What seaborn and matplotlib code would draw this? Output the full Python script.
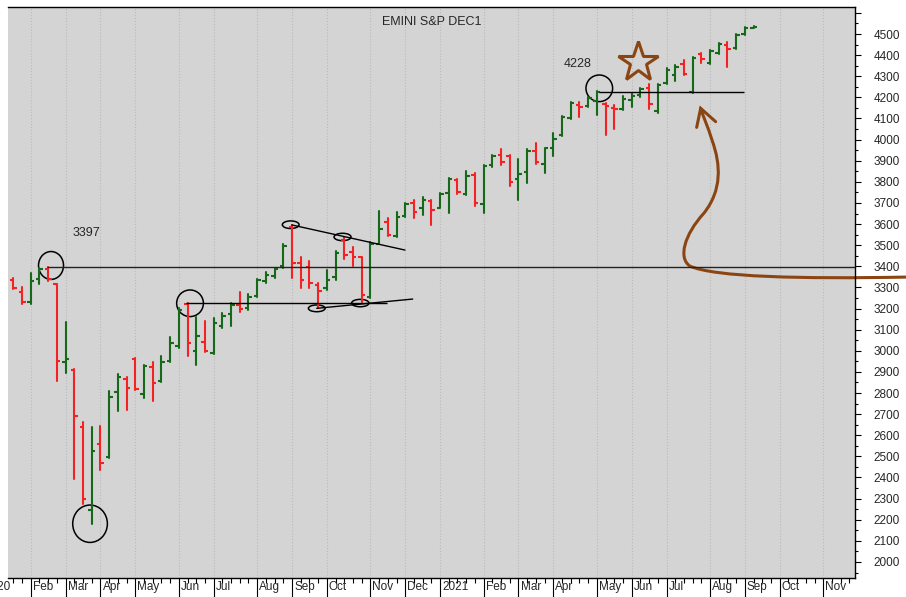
import numpy as np
import pandas as pd
import matplotlib
matplotlib.use('Agg')
import matplotlib.pyplot as plt
import matplotlib.transforms as mtransforms
from matplotlib.patches import Ellipse, PathPatch
from matplotlib.path import Path
import seaborn as sns

# weekly bars (week ending Friday), first bar = week ending 2020-01-24
first_week = '2020-01-24'
opens = [3335, 3280, 3233, 3340, 3385, 3314, 2948, 2909, 2640, 2246, 2560, 2495, 2806, 2865,
         2960, 2795, 2922, 2855, 2953, 3023, 3222, 2999, 3043, 2990, 3119, 3173, 3217, 3201,
         3261, 3330, 3354, 3400, 3586, 3414, 3398, 3312, 3296, 3351, 3525, 3470, 3446, 3256,
         3504, 3610, 3545, 3640, 3698, 3675, 3711, 3678, 3746, 3809, 3741, 3832, 3693, 3880,
         3927, 3922, 3813, 3848, 3946, 3883, 3958, 4024, 4103, 4164, 4161, 4183, 4168, 4152,
         4146, 4188, 4209, 4243, 4137, 4269, 4306, 4358, 4227, 4407, 4365, 4410, 4448, 4432,
         4500, 4530]
highs = [3343, 3304, 3367, 3393, 3397, 3316, 3138, 2912, 2661, 2638, 2644, 2811, 2889, 2877,
         2967, 2931, 2947, 2975, 3067, 3201, 3228, 3161, 3141, 3154, 3178, 3225, 3280, 3267,
         3340, 3372, 3391, 3504, 3596, 3446, 3425, 3320, 3383, 3473, 3540, 3493, 3446, 3517,
         3662, 3630, 3656, 3698, 3714, 3727, 3714, 3746, 3817, 3812, 3851, 3844, 3880, 3927,
         3955, 3927, 3908, 3955, 3982, 3962, 4030, 4113, 4177, 4180, 4203, 4228, 4172, 4164,
         4206, 4219, 4243, 4263, 4263, 4338, 4353, 4377, 4393, 4412, 4424, 4456, 4464, 4500,
         4535, 4536]
lows = [3293, 3220, 3220, 3315, 3330, 2858, 2896, 2395, 2275, 2180, 2436, 2491, 2717, 2720,
        2814, 2775, 2762, 2851, 2948, 3012, 2975, 2933, 2996, 2983, 3107, 3119, 3185, 3193,
        3256, 3320, 3343, 3394, 3347, 3299, 3296, 3201, 3288, 3335, 3435, 3403, 3230, 3249,
        3504, 3545, 3540, 3635, 3627, 3643, 3596, 3675, 3651, 3741, 3738, 3687, 3651, 3872,
        3880, 3782, 3714, 3793, 3884, 3840, 3924, 4018, 4098, 4106, 4156, 4116, 4022, 4049,
        4140, 4156, 4202, 4143, 4124, 4263, 4279, 4306, 4219, 4361, 4359, 4407, 4345, 4427,
        4495, 4527]
closes = [3296, 3233, 3330, 3386, 3340, 2953, 2960, 2691, 2297, 2527, 2470, 2783, 2877, 2822,
          2817, 2928, 2846, 2948, 3038, 3193, 3036, 3071, 3000, 3130, 3166, 3217, 3198, 3256,
          3335, 3359, 3387, 3498, 3414, 3335, 3322, 3283, 3335, 3461, 3455, 3446, 3264, 3504,
          3577, 3550, 3635, 3694, 3656, 3714, 3667, 3742, 3812, 3750, 3829, 3698, 3875, 3922,
          3895, 3801, 3836, 3946, 3895, 3958, 4003, 4108, 4172, 4156, 4196, 4224, 4160, 4145,
          4191, 4206, 4238, 4168, 4259, 4330, 4346, 4311, 4388, 4380, 4421, 4451, 4427, 4495,
          4527, 4533]

GREEN = '#17691a'
RED = '#f42222'
BROWN = '#8b4513'

origin = pd.Timestamp('2020-01-03')   # week index 0
df = pd.DataFrame({'open': opens, 'high': highs, 'low': lows, 'close': closes})
df['date'] = pd.date_range(first_week, periods=len(df), freq='W-FRI')
df['x'] = (df['date'] - origin).dt.days // 7
prev = df['close'].shift(1).fillna(df['open'])
df['dir'] = np.where(df['close'] >= prev, 'up', 'down')

# long form for the high-low lines
long_df = pd.concat([
    df[['x', 'dir']].assign(price=df['low']),
    df[['x', 'dir']].assign(price=df['high']),
])

sns.set_style('ticks', {'axes.facecolor': '#d4d4d4'})
plt.rcParams['font.family'] = ['Liberation Sans', 'DejaVu Sans']

fig, ax = plt.subplots(figsize=(9.06, 5.97), dpi=100)
fig.subplots_adjust(left=8/906, right=855/906, bottom=19/597, top=590/597)

sns.lineplot(data=long_df, x='x', y='price', units='x', estimator=None, hue='dir',
             palette={'up': GREEN, 'down': RED}, lw=1.5, legend=False, ax=ax)
cols = np.where(df['dir'] == 'up', GREEN, RED)
ax.hlines(df['open'], df['x'] - 0.4, df['x'], colors=cols, lw=1.5)
ax.hlines(df['close'], df['x'], df['x'] + 0.4, colors=cols, lw=1.5)
ax.set_xlabel('')
ax.set_ylabel('')

# x axis: weekly minor ticks, month starts as major ticks
fridays = pd.date_range('2020-01-03', '2021-11-26', freq='W-FRI')
week_idx = (fridays - origin).days // 7
month_start = fridays.month != np.roll(fridays.month, 1)
month_start[0] = True
major_x = week_idx[month_start]
major_d = fridays[month_start]
ax.set_xticks(major_x)
ax.set_xticklabels([])
ax.set_xticks(week_idx, minor=True)
ax.tick_params(axis='x', which='major', length=14, width=0.8, color='black', direction='out')
ax.tick_params(axis='x', which='minor', length=3.5, width=0.8, color='black', direction='out')
ax.xaxis.grid(True, which='major', linestyle=':', color='#bababa', lw=0.8)
ax.yaxis.grid(False)

# y axis on the right
ax.yaxis.tick_right()
yt = list(range(2000, 4700, 100))
ax.set_yticks(yt)
ax.set_yticklabels([str(v) if v <= 4500 else '' for v in yt], fontsize=8.5)
ax.set_yticks(list(range(1950, 4650, 100)), minor=True)
ax.tick_params(axis='y', which='major', length=4.5, width=0.8, color='black', pad=9)
ax.tick_params(axis='y', which='minor', length=2.2, width=0.8, color='black')

# limits after the ticks (set_ticks widens the view)
ax.set_xlim(2.39, 99.64)
ax.set_ylim(1924, 4628)

lab_tr = mtransforms.blended_transform_factory(ax.transData, ax.transAxes) + \
    mtransforms.ScaledTranslation(1.5/72, -2/72, fig.dpi_scale_trans)
for xi, d in zip(major_x, major_d):
    txt = str(d.year) if d.month == 1 else d.strftime('%b')
    if xi == 0:
        xi = -0.5  # 2020 label sits half off the left edge
    ax.text(xi, 0, txt, transform=lab_tr, ha='left', va='top', fontsize=8.5, clip_on=False)

for s in ['top', 'right', 'bottom']:
    ax.spines[s].set_visible(True)
    ax.spines[s].set_color('black')
    ax.spines[s].set_linewidth(1.0)
ax.spines['left'].set_visible(False)

ax.text(0.5, 0.974, 'EMINI S&P DEC1', transform=ax.transAxes, ha='center', va='center', fontsize=9)

# annotations
ax.hlines(3397, 6.84, 99.64, colors='#222222', lw=1.0)
ax.hlines(3225, 22.8, 45.9, colors='black', lw=1.0)
ax.plot([37.84, 48.86], [3201, 3245], color='black', lw=1.0)
ax.plot([34.97, 47.97], [3596, 3477], color='black', lw=1.0)
ax.hlines(4226, 70.2, 86.93, colors='black', lw=1.0)

rings = [((7.33, 3404), 2.87, 132), ((11.81, 2181), 3.98, 177), ((23.29, 3225), 3.07, 126),
         ((34.85, 3597), 1.92, 36), ((40.8, 3539), 1.95, 35), ((37.84, 3201), 1.92, 32),
         ((42.84, 3226), 1.99, 35), ((70.28, 4243), 3.06, 126)]
for c, w, h in rings:
    ax.add_patch(Ellipse(c, w, h, fill=False, ec='black', lw=1.1))

ax.text(9.86, 3558, '3397', fontsize=9, va='center', ha='left')
ax.text(66.15, 4359, '4228', fontsize=9, va='center', ha='left')

ax.plot(74.76, 4368, marker='*', ms=30, mfc='none', mec=BROWN, mew=2.2, clip_on=False)

verts = [(105.49, 3349), (93.32, 3340), (83.56, 3349), (80.69, 3401),
         (79.32, 3439), (80.01, 3548), (82.30, 3652),
         (84.37, 3761), (84.25, 3880), (83.22, 3998),
         (82.76, 4060), (82.19, 4112), (81.92, 4148)]
codes = [Path.MOVETO] + [Path.CURVE4] * 12
ax.add_patch(PathPatch(Path(verts, codes), fill=False, ec=BROWN, lw=2.2,
                       capstyle='round', clip_on=False))
ax.plot([81.46, 81.92, 83.64], [4058, 4148, 4085], color=BROWN, lw=2.2,
        solid_joinstyle='miter', solid_capstyle='round')

fig.savefig('out.png', dpi=100, facecolor='white')
